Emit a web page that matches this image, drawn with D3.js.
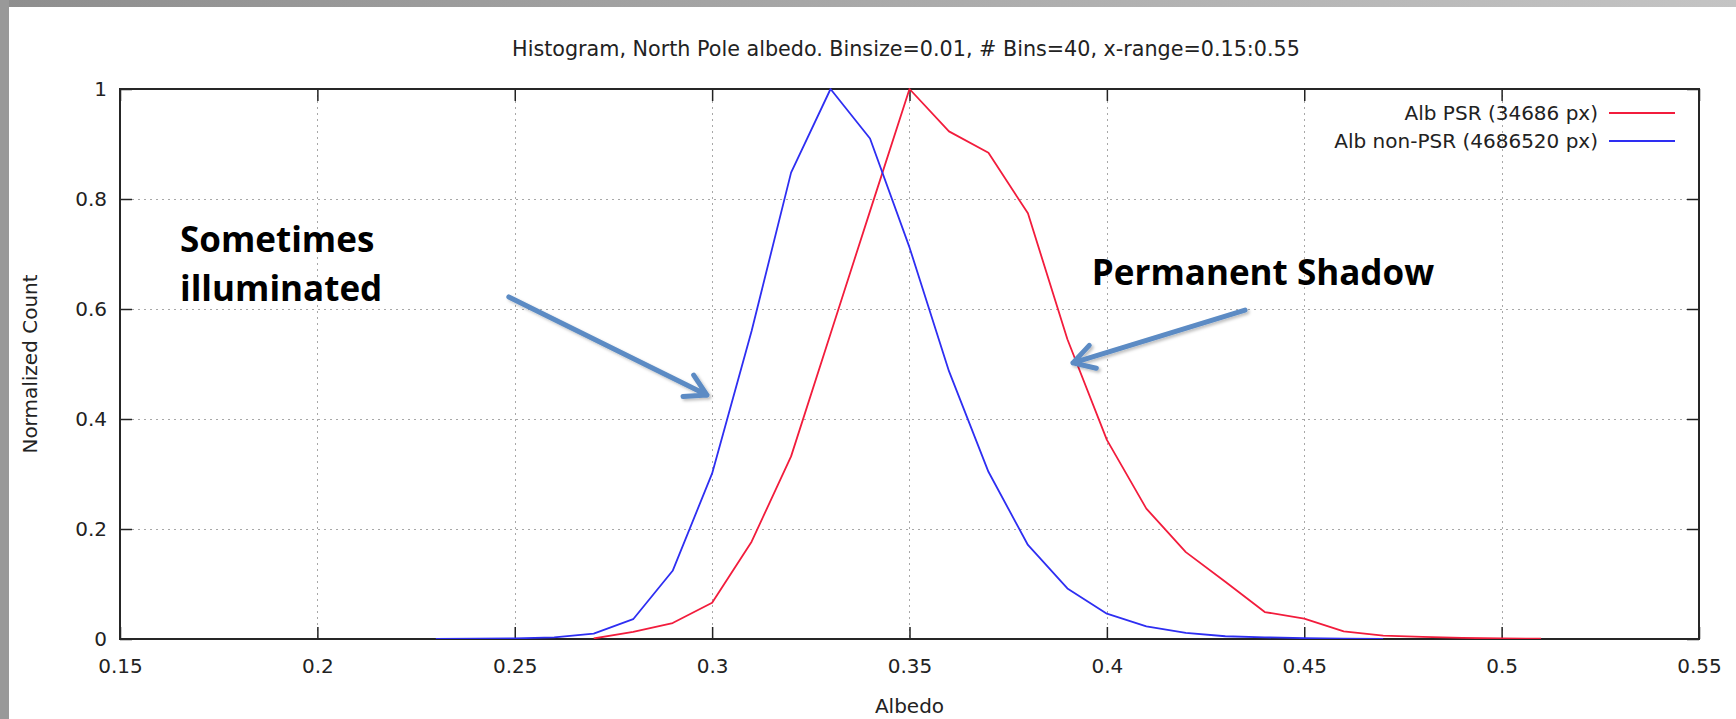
<!DOCTYPE html>
<html>
<head>
<meta charset="utf-8">
<script src="https://cdn.jsdelivr.net/npm/d3@7"></script>
<style>
  html, body { margin: 0; padding: 0; background: #ffffff; }
  svg { display: block; }
  text { font-family: "DejaVu Sans", sans-serif; fill: #222; }
  .anno { font-family: "Open Sans", sans-serif; font-weight: 700; fill: #000; }
</style>
</head>
<body>
<script>
// ---- data ----
const titleText = "Histogram, North Pole albedo. Binsize=0.01, # Bins=40, x-range=0.15:0.55";
const xTicks = [0.15, 0.2, 0.25, 0.3, 0.35, 0.4, 0.45, 0.5, 0.55];
const xTickLabels = ["0.15", "0.2", "0.25", "0.3", "0.35", "0.4", "0.45", "0.5", "0.55"];
const yTicks = [0, 0.2, 0.4, 0.6, 0.8, 1];
const yTickLabels = ["0", "0.2", "0.4", "0.6", "0.8", "1"];

const psrAlbedo = [0.27, 0.28, 0.29, 0.30, 0.31, 0.32, 0.33, 0.34, 0.35, 0.36, 0.37, 0.38, 0.39,
                   0.40, 0.41, 0.42, 0.43, 0.44, 0.45, 0.46, 0.47, 0.48, 0.49, 0.50, 0.51];
const psrCount  = [0.001, 0.013, 0.029, 0.066, 0.177, 0.332, 0.555, 0.778, 1.0, 0.923, 0.884, 0.774, 0.545,
                   0.362, 0.237, 0.158, 0.104, 0.049, 0.037, 0.014, 0.006, 0.004, 0.002, 0.001, 0.0005];

const nonPsrAlbedo = [0.23, 0.24, 0.25, 0.26, 0.27, 0.28, 0.29, 0.30, 0.31, 0.32, 0.33, 0.34, 0.35,
                      0.36, 0.37, 0.38, 0.39, 0.40, 0.41, 0.42, 0.43, 0.44, 0.45, 0.46, 0.47];
const nonPsrCount  = [0.0002, 0.0006, 0.0012, 0.0028, 0.0097, 0.036, 0.124, 0.301, 0.56, 0.848, 1.0, 0.91, 0.712,
                      0.487, 0.304, 0.171, 0.092, 0.046, 0.023, 0.011, 0.005, 0.003, 0.0015, 0.0008, 0.0003];

const seriesNames = ["Alb PSR (34686 px)", "Alb non-PSR (4686520 px)"];
const seriesColors = ["#f21c3c", "#2e2ef2"];

// annotations (in data units)
const annoLines = [
  { text: "Sometimes", x: 0.1652, y: 0.703 },
  { text: "illuminated", x: 0.1652, y: 0.614 },
  { text: "Permanent Shadow", x: 0.3962, y: 0.644 }
];
const arrows = [
  { x1: 0.2485, y1: 0.622, x2: 0.2987, y2: 0.4436 },
  { x1: 0.435, y1: 0.598, x2: 0.3914, y2: 0.502 }
];

// ---- layout ----
const W = 1736, H = 719;
const plot = { left: 120, right: 1699, top: 89, bottom: 639 };

const svg = d3.select("body").append("svg").attr("width", W).attr("height", H);

// slide frame
const defs = svg.append("defs");
const grad = defs.append("linearGradient").attr("id", "topband").attr("x1", "0").attr("x2", "1");
grad.append("stop").attr("offset", "0").attr("stop-color", "#8e8e8e");
grad.append("stop").attr("offset", "1").attr("stop-color", "#c4c4c4");
const sh = defs.append("filter").attr("id", "shadow").attr("x", "-20%").attr("y", "-20%").attr("width", "140%").attr("height", "140%");
sh.append("feDropShadow").attr("dx", 2).attr("dy", 2).attr("stdDeviation", 1.5).attr("flood-color", "#000").attr("flood-opacity", 0.25);
defs.append("clipPath").attr("id", "plotclip").append("rect")
  .attr("x", plot.left).attr("y", plot.top - 2)
  .attr("width", plot.right - plot.left).attr("height", plot.bottom - plot.top + 2);

svg.append("rect").attr("x", 0).attr("y", 0).attr("width", W).attr("height", H).attr("fill", "#fff");
svg.append("rect").attr("x", 0).attr("y", 0).attr("width", W).attr("height", 7).attr("fill", "url(#topband)");
svg.append("rect").attr("x", 0).attr("y", 0).attr("width", 9).attr("height", H).attr("fill", "#999");

const x = d3.scaleLinear().domain([0.15, 0.55]).range([plot.left, plot.right]);
const y = d3.scaleLinear().domain([0, 1]).range([plot.bottom, plot.top]);

// grid
const grid = svg.append("g").attr("stroke", "#a8a8a8").attr("stroke-width", 1).attr("stroke-dasharray", "2,4");
grid.selectAll("line.gx").data(xTicks.slice(1, -1)).join("line")
  .attr("x1", d => Math.round(x(d)) + 0.5).attr("x2", d => Math.round(x(d)) + 0.5)
  .attr("y1", plot.top).attr("y2", plot.bottom);
grid.selectAll("line.gy").data(yTicks.slice(1, -1)).join("line")
  .attr("y1", d => Math.round(y(d)) + 0.5).attr("y2", d => Math.round(y(d)) + 0.5)
  .attr("x1", plot.left).attr("x2", plot.right);

// axes with inward ticks
const tickLen = 12;
const xAxisB = d3.axisBottom(x).tickValues(xTicks).tickSize(-tickLen).tickPadding(20)
  .tickFormat((d, i) => xTickLabels[i]);
const gxb = svg.append("g").attr("transform", `translate(0,${plot.bottom})`).call(xAxisB);
const xAxisT = d3.axisTop(x).tickValues(xTicks).tickSize(-tickLen).tickFormat("");
const gxt = svg.append("g").attr("transform", `translate(0,${plot.top})`).call(xAxisT);
const yAxisL = d3.axisLeft(y).tickValues(yTicks).tickSize(-tickLen).tickPadding(13)
  .tickFormat((d, i) => yTickLabels[i]);
const gyl = svg.append("g").attr("transform", `translate(${plot.left},0)`).call(yAxisL);
const yAxisR = d3.axisRight(y).tickValues(yTicks).tickSize(-tickLen).tickFormat("");
const gyr = svg.append("g").attr("transform", `translate(${plot.right},0)`).call(yAxisR);

[gxb, gxt, gyl, gyr].forEach(g => {
  g.select(".domain").remove();
  g.selectAll(".tick line").attr("stroke", "#222").attr("stroke-width", 1.5);
  g.selectAll(".tick text").attr("font-size", 20).attr("fill", "#222")
    .attr("font-family", "'DejaVu Sans', sans-serif");
});
gxb.selectAll(".tick text").attr("dy", "0.71em").attr("y", 20);

// border
svg.append("rect").attr("x", plot.left).attr("y", plot.top)
  .attr("width", plot.right - plot.left).attr("height", plot.bottom - plot.top)
  .attr("fill", "none").attr("stroke", "#262626").attr("stroke-width", 2);

// series
const line = d3.line().x(d => x(d[0])).y(d => y(d[1]));
const seriesData = [
  d3.zip(psrAlbedo, psrCount),
  d3.zip(nonPsrAlbedo, nonPsrCount)
];
const lines = svg.append("g").attr("clip-path", "url(#plotclip)");
seriesData.forEach((s, i) => {
  lines.append("path").datum(s).attr("d", line)
    .attr("fill", "none").attr("stroke", seriesColors[i]).attr("stroke-width", 1.8)
    .attr("stroke-linejoin", "round");
});

// legend
const legend = svg.append("g");
seriesNames.forEach((name, i) => {
  const ly = 113 + i * 28;
  legend.append("text").attr("x", 1598).attr("y", ly).attr("dy", "0.35em")
    .attr("text-anchor", "end").attr("font-size", 20).attr("fill", "#222").text(name);
  legend.append("line").attr("x1", 1609).attr("x2", 1675).attr("y1", ly).attr("y2", ly)
    .attr("stroke", seriesColors[i]).attr("stroke-width", 1.8);
});

// title and axis labels
svg.append("text").attr("x", 906).attr("y", 56)
  .attr("text-anchor", "middle").attr("font-size", 20.7).text(titleText);
svg.append("text").attr("x", (plot.left + plot.right) / 2).attr("y", 713)
  .attr("text-anchor", "middle").attr("font-size", 20).text("Albedo");
svg.append("text").attr("transform", `translate(37,${(plot.top + plot.bottom) / 2}) rotate(-90)`)
  .attr("text-anchor", "middle").attr("font-size", 20).text("Normalized Count");

// annotations
const ann = svg.append("g");
annoLines.forEach(a => {
  ann.append("text").attr("class", "anno").attr("x", x(a.x)).attr("y", y(a.y))
    .attr("font-size", 35).text(a.text);
});
const arrowG = svg.append("g").attr("filter", "url(#shadow)")
  .attr("stroke", "#5b8bc4").attr("stroke-width", 5).attr("stroke-linecap", "round")
  .attr("stroke-linejoin", "round").attr("fill", "none");
arrows.forEach(a => {
  const X1 = x(a.x1), Y1 = y(a.y1), X2 = x(a.x2), Y2 = y(a.y2);
  const ang = Math.atan2(Y1 - Y2, X1 - X2);
  const L = 24, spread = Math.PI / 6;
  const p = d3.path();
  p.moveTo(X1, Y1); p.lineTo(X2, Y2);
  p.moveTo(X2 + L * Math.cos(ang - spread), Y2 + L * Math.sin(ang - spread));
  p.lineTo(X2, Y2);
  p.lineTo(X2 + L * Math.cos(ang + spread), Y2 + L * Math.sin(ang + spread));
  arrowG.append("path").attr("d", p.toString());
});
</script>
</body>
</html>
